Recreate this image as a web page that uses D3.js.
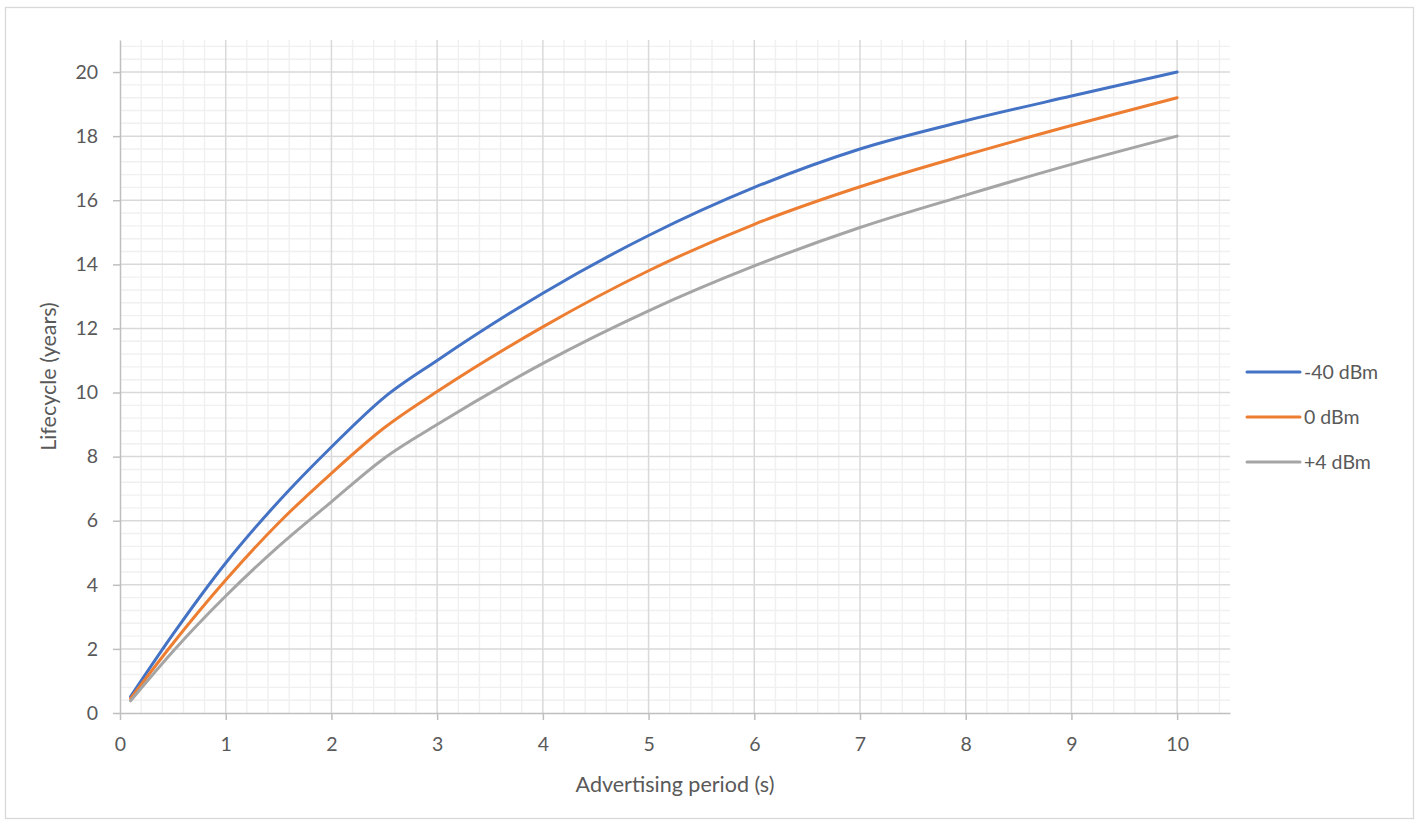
<!DOCTYPE html>
<html>
<head>
<meta charset="utf-8">
<script src="https://cdn.jsdelivr.net/npm/d3@7"></script>
<style>
  body { margin: 0; background: #fff; }
  text { font-family: Lato, "Open Sans", sans-serif; fill: #595959; }
</style>
</head>
<body>
<div id="chart"></div>
<script>
// data
const periods = [0.1, 0.5, 1, 1.5, 2, 2.5, 3, 4, 5, 6, 7, 8, 9, 10];
const minus40 = [0.51, 2.45, 4.68, 6.6, 8.3, 9.85, 11.0, 13.1, 14.9, 16.4, 17.6, 18.48, 19.25, 20.0];
const zero = [0.45, 2.17, 4.15, 5.93, 7.48, 8.9, 10.03, 12.05, 13.8, 15.25, 16.42, 17.41, 18.33, 19.2];
const plus4 = [0.38, 1.92, 3.65, 5.2, 6.59, 7.95, 9.0, 10.91, 12.55, 13.95, 15.15, 16.16, 17.12, 18.0];
const seriesNames = ["-40 dBm", "0 dBm", "+4 dBm"];
const seriesColors = ["#4472c4", "#ed7d31", "#a5a5a5"];
const xTicks = [0, 1, 2, 3, 4, 5, 6, 7, 8, 9, 10];
const yTicks = [0, 2, 4, 6, 8, 10, 12, 14, 16, 18, 20];

const width = 1420;
const height = 821;
const plotLeft = 120, plotRight = 1230, plotTop = 40, plotBottom = 713;

var svg = d3.select("#chart").append("svg")
    .attr("width", width)
    .attr("height", height);

// chart border
svg.append("rect")
    .attr("x", 5.5).attr("y", 7.5)
    .attr("width", 1408).attr("height", 811)
    .attr("fill", "#fff")
    .attr("stroke", "#d9d9d9")
    .attr("stroke-width", 1.3);

var xScale = d3.scaleLinear().domain([0, 10.5]).range([plotLeft, plotRight]);
var yScale = d3.scaleLinear().domain([0, 21]).range([plotBottom, plotTop]);

// minor grid
var xMinor = d3.range(0, 10.51, 0.2).filter(v => Math.abs(v - Math.round(v)) > 0.01);
var yMinor = d3.range(0, 21.01, 0.4).filter(v => Math.abs(v / 2 - Math.round(v / 2)) > 0.01);

var grid = svg.append("g").attr("class", "grid");
grid.selectAll(".xminor").data(xMinor).enter().append("line")
    .attr("x1", d => xScale(d)).attr("x2", d => xScale(d))
    .attr("y1", plotTop).attr("y2", plotBottom)
    .attr("stroke", "#f0f0f0").attr("stroke-width", 1.4);
grid.selectAll(".yminor").data(yMinor).enter().append("line")
    .attr("x1", plotLeft).attr("x2", plotRight)
    .attr("y1", d => yScale(d)).attr("y2", d => yScale(d))
    .attr("stroke", "#f0f0f0").attr("stroke-width", 1.4);

// major grid
grid.selectAll(".xmajor").data(xTicks.slice(1)).enter().append("line")
    .attr("x1", d => xScale(d)).attr("x2", d => xScale(d))
    .attr("y1", plotTop).attr("y2", plotBottom)
    .attr("stroke", "#d9d9d9").attr("stroke-width", 1.5);
grid.selectAll(".ymajor").data(yTicks.slice(1)).enter().append("line")
    .attr("x1", plotLeft).attr("x2", plotRight)
    .attr("y1", d => yScale(d)).attr("y2", d => yScale(d))
    .attr("stroke", "#d9d9d9").attr("stroke-width", 1.5);

// x axis
var xAxis = svg.append("g")
    .attr("transform", `translate(0,${plotBottom})`)
    .call(d3.axisBottom(xScale).tickValues(xTicks).tickSize(7).tickPadding(17).tickSizeOuter(0));
xAxis.select(".domain").attr("stroke", "#bfbfbf").attr("stroke-width", 1.5);
xAxis.selectAll(".tick line").attr("stroke", "#bfbfbf").attr("stroke-width", 1.5);
xAxis.selectAll("text").style("font-size", "19.5px").attr("fill", "#595959");

// y axis
var yAxis = svg.append("g")
    .attr("transform", `translate(${plotLeft},0)`)
    .call(d3.axisLeft(yScale).tickValues(yTicks).tickSize(7).tickPadding(15).tickSizeOuter(0));
yAxis.select(".domain").attr("stroke", "#bfbfbf").attr("stroke-width", 1.5);
yAxis.selectAll(".tick line").attr("stroke", "#bfbfbf").attr("stroke-width", 1.5);
yAxis.selectAll("text").style("font-size", "19.5px").attr("fill", "#595959");

// axis titles
svg.append("text")
    .attr("x", (plotLeft + plotRight) / 2).attr("y", 792)
    .attr("text-anchor", "middle")
    .style("font-size", "21.5px")
    .text("Advertising period (s)");

svg.append("text")
    .attr("transform", `translate(56,${(plotTop + plotBottom) / 2}) rotate(-90)`)
    .attr("text-anchor", "middle")
    .style("font-size", "21.5px")
    .text("Lifecycle (years)");

// lines
var allSeries = [minus40, zero, plus4];
var line = d3.line()
    .x((d, i) => xScale(periods[i]))
    .y(d => yScale(d))
    .curve(d3.curveMonotoneX);

svg.selectAll(".series")
    .data(allSeries)
    .enter()
    .append("path")
    .attr("class", "series")
    .attr("d", d => line(d))
    .attr("fill", "none")
    .attr("stroke", (d, i) => seriesColors[i])
    .attr("stroke-width", 3)
    .attr("stroke-linecap", "round")
    .attr("stroke-linejoin", "round");

// legend
var legend = svg.selectAll(".legend")
    .data(seriesNames)
    .enter()
    .append("g")
    .attr("class", "legend")
    .attr("transform", (d, i) => `translate(1247,${372 + i * 45})`);

legend.append("line")
    .attr("x1", 0).attr("x2", 53)
    .attr("y1", 0).attr("y2", 0)
    .attr("stroke", (d, i) => seriesColors[i])
    .attr("stroke-width", 3)
    .attr("stroke-linecap", "round");

legend.append("text")
    .attr("x", 57).attr("y", 7)
    .style("font-size", "19.5px")
    .text(d => d);
</script>
</body>
</html>
